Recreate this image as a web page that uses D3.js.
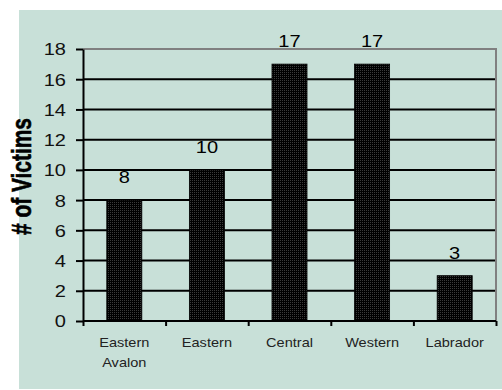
<!DOCTYPE html>
<html><head><meta charset="utf-8">
<script src="https://cdn.jsdelivr.net/npm/d3@7"></script>
<style>html,body{margin:0;padding:0;background:#fff;}svg{display:block;}</style>
</head><body>
<script>
const categories = [["Eastern","Avalon"],["Eastern"],["Central"],["Western"],["Labrador"]];
const values = [8, 10, 17, 17, 3];
const yTicks = [0, 2, 4, 6, 8, 10, 12, 14, 16, 18];
const yTitle = "# of Victims";

const W = 502, H = 390;
const plot = {left: 83, right: 496, top: 49, bottom: 321};
const sx = 1.18;

const svg = d3.select("body").append("svg").attr("width", W).attr("height", H);
const defs = svg.append("defs");
const pat = defs.append("pattern").attr("id","dots").attr("width",2).attr("height",2).attr("patternUnits","userSpaceOnUse");
pat.append("rect").attr("width",2).attr("height",2).attr("fill","#000");
pat.append("rect").attr("width",1).attr("height",1).attr("fill","#3a3a3a");

svg.append("rect").attr("x",19).attr("y",10).attr("width",W-19).attr("height",379).attr("fill","#c8e0d8");

const idx = categories.map((d,i)=>i);
const x = d3.scaleBand().domain(idx).range([plot.left, plot.right]).paddingInner(0.576).paddingOuter(0.288);
const y = d3.scaleLinear().domain([0,18]).range([plot.bottom, plot.top]);

// gridlines
svg.append("g").selectAll("line").data(yTicks.filter(t=>t>0 && t<18)).join("line")
  .attr("x1",plot.left).attr("x2",plot.right)
  .attr("y1",d=>y(d)).attr("y2",d=>y(d))
  .attr("stroke","#000").attr("stroke-width",2);

// border top/right
svg.append("path").attr("d",`M${plot.left},${plot.top}H${plot.right}V${plot.bottom}`)
  .attr("fill","none").attr("stroke","#808080").attr("stroke-width",2);

// bars
svg.append("g").selectAll("rect").data(values).join("rect")
  .attr("x",(d,i)=>x(i)).attr("width",x.bandwidth())
  .attr("y",d=>y(d)).attr("height",d=>y(0)-y(d))
  .attr("fill","url(#dots)").attr("stroke","#000").attr("stroke-width",0.8);

// value labels
svg.append("g").selectAll("text").data(values).join("text")
  .attr("transform",(d,i)=>`translate(${x(i)+x.bandwidth()/2},${y(d)-17}) scale(${sx},1)`)
  .attr("text-anchor","middle").attr("font-family","Liberation Sans, Arial, sans-serif")
  .attr("font-size",17).attr("fill","#000").text(d=>d);

// y axis
const yAxis = svg.append("g").attr("transform",`translate(${plot.left},0)`)
  .call(d3.axisLeft(y).tickValues(yTicks).tickSize(7).tickPadding(10).tickSizeOuter(0));
yAxis.select(".domain").attr("stroke","#000").attr("stroke-width",2);
yAxis.selectAll(".tick line").attr("stroke","#000").attr("stroke-width",2);
yAxis.selectAll(".tick text").attr("font-family","Liberation Sans, Arial, sans-serif")
  .attr("font-size",17).attr("fill","#111")
  .attr("x",null).attr("dy","0.35em")
  .attr("transform",`translate(-17,0) scale(${sx},1)`);

// x axis line + ticks at boundaries
const xb = d3.scaleLinear().domain([0,5]).range([plot.left, plot.right]);
const xAxis = svg.append("g").attr("transform",`translate(0,${plot.bottom})`)
  .call(d3.axisBottom(xb).ticks(5).tickSize(5).tickFormat(""));
xAxis.select(".domain").attr("stroke","#000").attr("stroke-width",2).attr("d",`M${plot.left},0H${plot.right}`);
xAxis.selectAll(".tick line").attr("stroke","#000").attr("stroke-width",2);

// category labels
const cl = svg.append("g").selectAll("text").data(categories).join("text")
  .attr("transform",(d,i)=>`translate(${x(i)+x.bandwidth()/2},347) scale(1.12,1)`)
  .attr("text-anchor","middle").attr("font-family","Liberation Sans, Arial, sans-serif")
  .attr("font-size",13).attr("fill","#222");
cl.selectAll("tspan").data(d=>d).join("tspan").attr("x",0).attr("y",(d,j)=>j*20).text(d=>d);

// y title
svg.append("text").attr("transform","translate(31,176.5) rotate(-90)")
  .attr("text-anchor","middle")
  .attr("font-family","Liberation Sans Narrow, Arial Narrow, Liberation Sans, sans-serif")
  .attr("font-weight","bold").attr("font-size",27)
  .attr("textLength",117).attr("lengthAdjust","spacingAndGlyphs")
  .attr("stroke","#000").attr("stroke-width",0.6)
  .attr("fill","#000").text(yTitle);
</script>
</body></html>
